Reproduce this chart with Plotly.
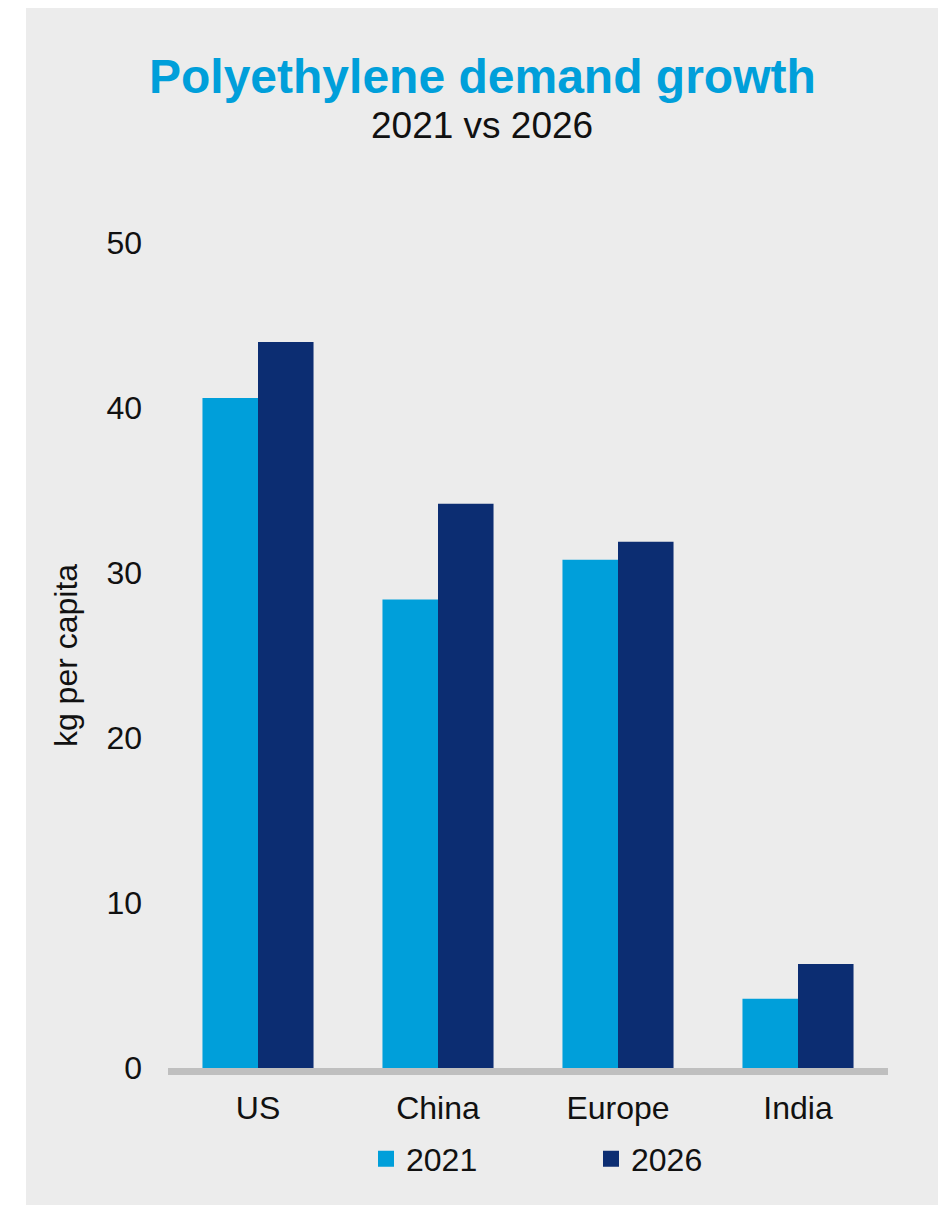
import plotly.graph_objects as go

categories = ["US", "China", "Europe", "India"]
values_2021 = [40.6, 28.4, 30.8, 4.2]
values_2026 = [44.0, 34.2, 31.9, 6.3]
series_names = ["2021", "2026"]
y_ticks = [0, 10, 20, 30, 40, 50]

C2021 = "#009fda"
C2026 = "#0c2d72"
FONT = "Liberation Sans, Arial, sans-serif"

# page body has an 8px margin; work in reference-pixel coordinates minus 8
OFF = 8
W, H = 950 - OFF, 1210 - OFF
L, R, T = 168 - OFF, 62, 243 - OFF
B = H - (1068 - OFF)
PW, PH = W - L - R, H - T - B


def px_x(p):
    return (p - OFF - L) / PW


def px_y(p):
    return (H - B - (p - OFF)) / PH


fig = go.Figure()
fig.add_trace(go.Bar(x=categories, y=values_2021, name=series_names[0],
                     showlegend=False, marker=dict(color=C2021, line=dict(width=0))))
fig.add_trace(go.Bar(x=categories, y=values_2026, name=series_names[1],
                     showlegend=False, marker=dict(color=C2026, line=dict(width=0))))
# legend entries (square swatches)
for nm, col in zip(series_names, [C2021, C2026]):
    fig.add_trace(go.Scatter(x=[None], y=[None], mode="markers", name=nm,
                             marker=dict(symbol="square", size=17, color=col),
                             hoverinfo="skip"))

fig.update_layout(
    width=W, height=H,
    margin=dict(l=L, r=R, t=T, b=B),
    paper_bgcolor="white",
    plot_bgcolor="rgba(0,0,0,0)",
    barmode="group",
    bargap=0.383,
    bargroupgap=0,
    font=dict(family=FONT, size=32, color="#111111"),
    showlegend=True,
    legend=dict(orientation="h", x=px_x(366), y=px_y(1159), xanchor="left",
                yanchor="middle", entrywidth=180, entrywidthmode="pixels",
                font=dict(size=32, color="#111111"), bgcolor="rgba(0,0,0,0)",
                traceorder="normal"),
    shapes=[dict(type="rect", xref="paper", yref="paper", layer="below",
                 x0=px_x(26), x1=px_x(938), y0=px_y(1205), y1=px_y(7),
                 fillcolor="#ececec", line=dict(width=0))],
    annotations=[
        dict(text="<b>Polyethylene demand growth</b>", xref="paper", yref="paper",
             x=px_x(482), y=px_y(76), xanchor="center", yanchor="middle",
             showarrow=False, font=dict(size=48, color=C2021, family=FONT)),
        dict(text="2021 vs 2026", xref="paper", yref="paper",
             x=px_x(482), y=px_y(126), xanchor="center", yanchor="middle",
             showarrow=False, font=dict(size=37, color="#111111", family=FONT)),
    ],
)

fig.update_xaxes(showline=True, linewidth=7, linecolor="#bfbfbf", ticks="",
                 showgrid=False, zeroline=False, ticklabelstandoff=6,
                 tickfont=dict(size=32, color="#111111"))
fig.update_yaxes(range=[0, 50], tickvals=y_ticks, showgrid=False, zeroline=False,
                 showline=False, ticks="", ticklabelstandoff=25,
                 tickfont=dict(size=32, color="#111111"),
                 title=dict(text="kg per capita", standoff=19,
                            font=dict(size=32, color="#111111")))

fig.write_html("out.html")
